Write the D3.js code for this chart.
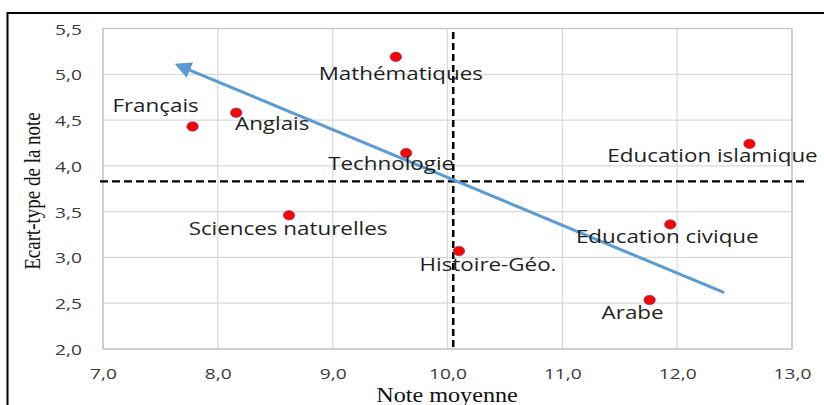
<!DOCTYPE html>
<html>
<head>
<meta charset="utf-8">
<script src="https://cdn.jsdelivr.net/npm/d3@7"></script>
<style>
  html, body { margin: 0; padding: 0; background: #fff; }
  svg { display: block; }
</style>
</head>
<body>
<script>
// Subjects: mean grade vs. standard deviation of the grade
const subjects = ["Mathématiques", "Technologie", "Français", "Anglais", "Education islamique",
                  "Sciences naturelles", "Histoire-Géo.", "Education civique", "Arabe"];
const meanGrade = [9.55, 9.64, 7.78, 8.16, 12.63, 8.62, 10.10, 11.94, 11.76];
const stdDev    = [5.19, 4.14, 4.43, 4.58, 4.24, 3.46, 3.07, 3.36, 2.535];

// Overall averages (dashed reference lines)
const overallMean = 10.05;
const overallStd = 3.83;

// Trend arrow: start and tip (data units)
const trendX = [12.41, 7.65];
const trendY = [2.615, 5.10];

const xTicks = [7, 8, 9, 10, 11, 12, 13];
const yTicks = [2, 2.5, 3, 3.5, 4, 4.5, 5, 5.5];

const xTitle = "Note moyenne";
const yTitle = "Ecart-type  de la note";

// Label placement relative to each point (pixels: centre x offset, baseline y offset)
const labelOffset = {
  "Mathématiques": [5, 23],
  "Technologie": [-15, 17],
  "Français": [-37, -14],
  "Anglais": [36, 17],
  "Education islamique": [-37, 18],
  "Sciences naturelles": [-1, 20],
  "Histoire-Géo.": [29, 20],
  "Education civique": [-3, 19],
  "Arabe": [-17, 19]
};

const W = 824, H = 405;
const plot = { left: 103, right: 792, top: 28.5, bottom: 349 };
const STRETCH = 1.28;   // horizontal widening of the text glyphs
const sans = "'Open Sans', sans-serif";
const serif = "'Liberation Serif', 'Times New Roman', serif";

const svg = d3.select("body").append("svg").attr("width", W).attr("height", H);

const x = d3.scaleLinear().domain([7, 13]).range([plot.left, plot.right]);
const y = d3.scaleLinear().domain([2, 5.5]).range([plot.bottom, plot.top]);

// Place a text at (px, py) and widen it horizontally around its anchor
function placeWide(sel, fx, fy, s) {
  sel.attr("transform", (d, i, n) => `translate(${fx(d, i, n)},${fy(d, i, n)}) scale(${s},1)`);
}

// Outer frame (top and left edges visible)
svg.append("line").attr("x1", 7).attr("x2", W).attr("y1", 13).attr("y2", 13)
  .attr("stroke", "#000").attr("stroke-width", 2);
svg.append("line").attr("x1", 7.5).attr("x2", 7.5).attr("y1", 12).attr("y2", H)
  .attr("stroke", "#000").attr("stroke-width", 2);

// Gridlines
const grid = svg.append("g");
grid.selectAll(".gx").data(xTicks).join("line")
  .attr("x1", d => x(d)).attr("x2", d => x(d))
  .attr("y1", plot.top).attr("y2", plot.bottom)
  .attr("stroke", "#d9d9d9").attr("stroke-width", 1.2);
grid.selectAll(".gy").data(yTicks).join("line")
  .attr("x1", plot.left).attr("x2", plot.right)
  .attr("y1", d => y(d)).attr("y2", d => y(d))
  .attr("stroke", "#d9d9d9").attr("stroke-width", 1.2);

// Plot-area border
svg.append("rect").attr("x", plot.left).attr("y", plot.top)
  .attr("width", plot.right - plot.left).attr("height", plot.bottom - plot.top)
  .attr("fill", "none").attr("stroke", "#bfbfbf").attr("stroke-width", 1.2);

const fmt = d => d.toFixed(1).replace(".", ",");

// Axes: D3 axis generators, then the tick texts are widened in place
const xAxis = svg.append("g").attr("transform", `translate(0,${plot.bottom})`)
  .call(d3.axisBottom(x).tickValues(xTicks).tickFormat(fmt).tickSize(0));
const yAxis = svg.append("g").attr("transform", `translate(${plot.left},0)`)
  .call(d3.axisLeft(y).tickValues(yTicks).tickFormat(fmt).tickSize(0));
[xAxis, yAxis].forEach(a => {
  a.select(".domain").remove();
  a.selectAll("text").attr("font-family", sans).attr("font-size", 15)
    .attr("fill", "#3a3a3a").attr("x", null).attr("y", null).attr("dy", null);
});
placeWide(xAxis.selectAll("text").attr("text-anchor", "middle"), () => 0, () => 30, STRETCH);
placeWide(yAxis.selectAll("text").attr("text-anchor", "end"), () => -21, () => 5.5, STRETCH);

// Reference dashed lines
svg.append("line")
  .attr("x1", x(overallMean)).attr("x2", x(overallMean))
  .attr("y1", 32).attr("y2", plot.bottom)
  .attr("stroke", "#000").attr("stroke-width", 2.5).attr("stroke-dasharray", "7,4");
svg.append("line")
  .attr("x1", 100).attr("x2", 807)
  .attr("y1", y(overallStd)).attr("y2", y(overallStd))
  .attr("stroke", "#000").attr("stroke-width", 2.2).attr("stroke-dasharray", "8,4");

// Trend arrow
const defs = svg.append("defs");
defs.append("marker").attr("id", "arrowHead")
  .attr("viewBox", "0 0 10 10").attr("refX", 8).attr("refY", 5)
  .attr("markerWidth", 5.5).attr("markerHeight", 5.5).attr("orient", "auto")
  .attr("markerUnits", "strokeWidth")
  .append("path").attr("d", "M0,0 L10,5 L0,10 z").attr("fill", "#5b9bd5");
svg.append("line")
  .attr("x1", x(trendX[0])).attr("y1", y(trendY[0]))
  .attr("x2", x(trendX[1])).attr("y2", y(trendY[1]))
  .attr("stroke", "#5b9bd5").attr("stroke-width", 3)
  .attr("marker-end", "url(#arrowHead)");

// Points
const data = subjects.map((s, i) => ({ s, mx: meanGrade[i], sd: stdDev[i] }));
svg.append("g").selectAll("ellipse").data(data).join("ellipse")
  .attr("cx", d => x(d.mx)).attr("cy", d => y(d.sd)).attr("rx", 5.8).attr("ry", 4.8)
  .attr("fill", "#ff0000").attr("stroke", "#4a5fa8").attr("stroke-width", 0.6);

// Point labels
const labels = svg.append("g").selectAll("text").data(data).join("text")
  .attr("text-anchor", "middle")
  .attr("font-family", sans).attr("font-size", 17.5)
  .attr("fill", "#1f1f1f")
  .text(d => d.s);
placeWide(labels, d => x(d.mx) + labelOffset[d.s][0], d => y(d.sd) + labelOffset[d.s][1], STRETCH);

// Axis titles
const xt = svg.append("text").attr("text-anchor", "middle")
  .attr("font-family", serif).attr("font-size", 20.5)
  .attr("fill", "#111").text(xTitle);
placeWide(xt, () => 447, () => 401.5, 1.18);
svg.append("text").attr("transform", "translate(40,191) rotate(-90) scale(1,1.2)")
  .attr("text-anchor", "middle")
  .attr("font-family", serif).attr("font-size", 19)
  .attr("fill", "#111").text(yTitle);
</script>
</body>
</html>
